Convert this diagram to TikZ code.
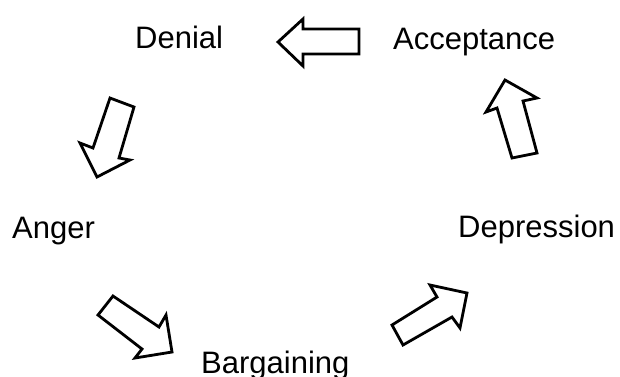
\documentclass[tikz,border=0pt]{standalone}
\usepackage{fontspec}
\setmainfont{Liberation Sans}
\begin{document}
\begin{tikzpicture}[x=1pt,y=-1pt,
  lbl/.style={inner sep=0pt,anchor=base west,font=\fontsize{31}{36}\selectfont},
  blockarrow/.style={draw=black,fill=white,line width=2.8pt,line join=miter}]
\useasboundingbox (0,0) rectangle (620,376);
% labels
\node[lbl] (denial) at (135,48) {Denial};
\node[lbl] (accept) at (393,49) {Acceptance};
\node[lbl] (anger) at (12,238) {Anger};
\node[lbl] (depr) at (458,237) {Depression};
\node[lbl] (barg) at (201,373) {Bargaining};
% block arrows
% Acceptance -> Denial
\draw[blockarrow] (278,42) -- (303,19) -- (303,29) -- (359,29) -- (359,54) -- (303,54) -- (303,66) -- cycle;
% Denial -> Anger
\draw[blockarrow] (110,98) -- (134,107) -- (119,158) -- (130,160) -- (97,177) -- (80,143) -- (93,148) -- cycle;
% Anger -> Bargaining
\draw[blockarrow] (113,296) -- (159,327) -- (166,315) -- (172,352) -- (135,358) -- (142,349) -- (98,315) -- cycle;
% Bargaining -> Depression
\draw[blockarrow] (392,325) -- (437,297) -- (430,285) -- (467,293) -- (460,328) -- (452,317) -- (403,345) -- cycle;
% Depression -> Acceptance
\draw[blockarrow] (505,80) -- (537,98) -- (523,101) -- (537,153) -- (512,158) -- (497,108) -- (486,112) -- cycle;
\end{tikzpicture}
\end{document}
